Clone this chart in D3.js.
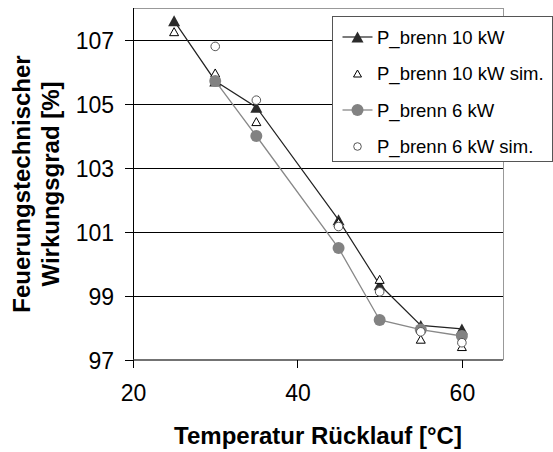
<!DOCTYPE html>
<html><head><meta charset="utf-8">
<script src="https://cdn.jsdelivr.net/npm/d3@7"></script>
<style>body{margin:0;background:#fff}svg{display:block}text{font-family:"Liberation Sans",Arial,sans-serif}</style>
</head><body>
<script>
const temps10 = [25, 30, 35, 45, 50, 55, 60];
const eta10 = [107.6, 105.72, 104.9, 101.38, 99.35, 98.08, 97.97];
const eta10sim = [107.26, 105.97, 104.45, 101.3, 99.52, 97.65, 97.42];
const temps6 = [30, 35, 45, 50, 55, 60];
const eta6 = [105.72, 104.0, 100.5, 98.25, 97.95, 97.75];
const eta6sim = [106.8, 105.12, 101.17, 99.13, 97.88, 97.54];
const xTicks = [20, 40, 60];
const yTicks = [97, 99, 101, 103, 105, 107];
const legendLabels = ["P_brenn 10 kW", "P_brenn 10 kW sim.", "P_brenn 6 kW", "P_brenn 6 kW sim."];

const W = 553, H = 452;
const L = 133, R = 503, T = 8, B = 360;
const svg = d3.select("body").append("svg").attr("width", W).attr("height", H);
const x = d3.scaleLinear().domain([20, 65]).range([L, R]);
const y = d3.scaleLinear().domain([97, 108]).range([B, T]);

// plot border (gray top/right)
svg.append("path").attr("d", `M${L},${T + 0.5}H${R + 0.5}V${B}`).attr("fill", "none")
  .attr("stroke", "#999").attr("stroke-width", 1).attr("shape-rendering", "crispEdges");

// gridlines
svg.append("g").selectAll("line").data(yTicks.filter(d => d > 97)).join("line")
  .attr("x1", L).attr("x2", R).attr("y1", d => y(d) + 0.5).attr("y2", d => y(d) + 0.5)
  .attr("stroke", "#000").attr("stroke-width", 1).attr("shape-rendering", "crispEdges");

// axes
const yAxis = d3.axisLeft(y).tickValues(yTicks).tickSize(8).tickPadding(11).tickFormat(d3.format("d"));
const gy = svg.append("g").attr("transform", `translate(${L},0)`).call(yAxis);
gy.select(".domain").attr("d", `M0,${T}V${B}`).attr("stroke", "#000").attr("shape-rendering", "crispEdges");
gy.selectAll(".tick text").attr("font-size", 23).attr("fill", "#000").attr("dy", "0.36em");
gy.selectAll(".tick line").attr("stroke", "#000").attr("shape-rendering", "crispEdges");

const xAxis = d3.axisBottom(x).tickValues(xTicks).tickSize(8).tickPadding(17).tickFormat(d3.format("d"));
const gx = svg.append("g").attr("transform", `translate(0,${B})`).call(xAxis);
gx.select(".domain").attr("d", `M${L},0H${R}`).attr("stroke", "#444").attr("stroke-width", 1.5);
gx.selectAll(".tick text").attr("font-size", 23).attr("fill", "#000").attr("dy", "0.71em");
gx.selectAll(".tick line").attr("stroke", "#000").attr("shape-rendering", "crispEdges");

// axis titles
svg.append("text").attr("x", (L + R) / 2).attr("y", 444).attr("text-anchor", "middle")
  .attr("font-size", 24).attr("font-weight", "bold").text("Temperatur Rücklauf [°C]");
const yt = svg.append("text").attr("transform", `translate(30,${(T + B) / 2}) rotate(-90)`)
  .attr("text-anchor", "middle").attr("font-size", 24).attr("font-weight", "bold");
yt.append("tspan").attr("x", 0).attr("y", 0).text("Feuerungstechnischer");
yt.append("tspan").attr("x", 0).attr("y", 28.5).text("Wirkungsgrad [%]");

function tri(w, h) { return `M0,${-h/2}L${w/2},${h/2}L${-w/2},${h/2}Z`; }

const s10 = temps10.map((t, i) => ({t, v: eta10[i]}));
const s10s = temps10.map((t, i) => ({t, v: eta10sim[i]}));
const s6 = temps6.map((t, i) => ({t, v: eta6[i]}));
const s6s = temps6.map((t, i) => ({t, v: eta6sim[i]}));
const line = d3.line().x(d => x(d.t)).y(d => y(d.v));

// series 1
svg.append("path").datum(s10).attr("d", line).attr("fill", "none").attr("stroke", "#222").attr("stroke-width", 1.2);
svg.append("g").selectAll("path").data(s10).join("path")
  .attr("transform", d => `translate(${x(d.t)},${y(d.v)})`).attr("d", tri(12, 11)).attr("fill", "#2b2b2b");
// series 2
svg.append("g").selectAll("path").data(s10s).join("path")
  .attr("transform", d => `translate(${x(d.t)},${y(d.v)})`).attr("d", tri(9, 8))
  .attr("fill", "#fff").attr("stroke", "#000").attr("stroke-width", 1);
// series 3
svg.append("path").datum(s6).attr("d", line).attr("fill", "none").attr("stroke", "#888").attr("stroke-width", 1.3);
svg.append("g").selectAll("circle").data(s6).join("circle")
  .attr("cx", d => x(d.t)).attr("cy", d => y(d.v)).attr("r", 6).attr("fill", "#828282");
// series 4
svg.append("g").selectAll("circle").data(s6s).join("circle")
  .attr("cx", d => x(d.t)).attr("cy", d => y(d.v)).attr("r", 4.3)
  .attr("fill", "#fff").attr("stroke", "#555").attr("stroke-width", 1);

// legend
const lg = svg.append("g");
lg.append("rect").attr("x", 332.5).attr("y", 16.5).attr("width", 219.5).attr("height", 145)
  .attr("fill", "#fff").attr("stroke", "#555").attr("stroke-width", 1).attr("shape-rendering", "crispEdges");
const rowsY = [37, 73.5, 110, 146.5];
const mx = 357.5;
legendLabels.forEach((lab, i) => {
  const cy = rowsY[i];
  if (i === 0) {
    lg.append("line").attr("x1", 342.5).attr("x2", 372.5).attr("y1", cy).attr("y2", cy).attr("stroke", "#222").attr("stroke-width", 1.2);
    lg.append("path").attr("transform", `translate(${mx},${cy})`).attr("d", tri(12, 11)).attr("fill", "#2b2b2b");
  } else if (i === 1) {
    lg.append("path").attr("transform", `translate(${mx},${cy})`).attr("d", tri(8, 7)).attr("fill", "#fff").attr("stroke", "#000");
  } else if (i === 2) {
    lg.append("line").attr("x1", 342.5).attr("x2", 372.5).attr("y1", cy).attr("y2", cy).attr("stroke", "#888").attr("stroke-width", 1.3);
    lg.append("circle").attr("cx", mx).attr("cy", cy).attr("r", 6).attr("fill", "#828282");
  } else {
    lg.append("circle").attr("cx", mx).attr("cy", cy).attr("r", 3.8).attr("fill", "#fff").attr("stroke", "#555");
  }
  lg.append("text").attr("x", 377).attr("y", cy + 6.7).attr("font-size", 18.5).attr("fill", "#000").text(lab);
});
</script>
</body></html>
